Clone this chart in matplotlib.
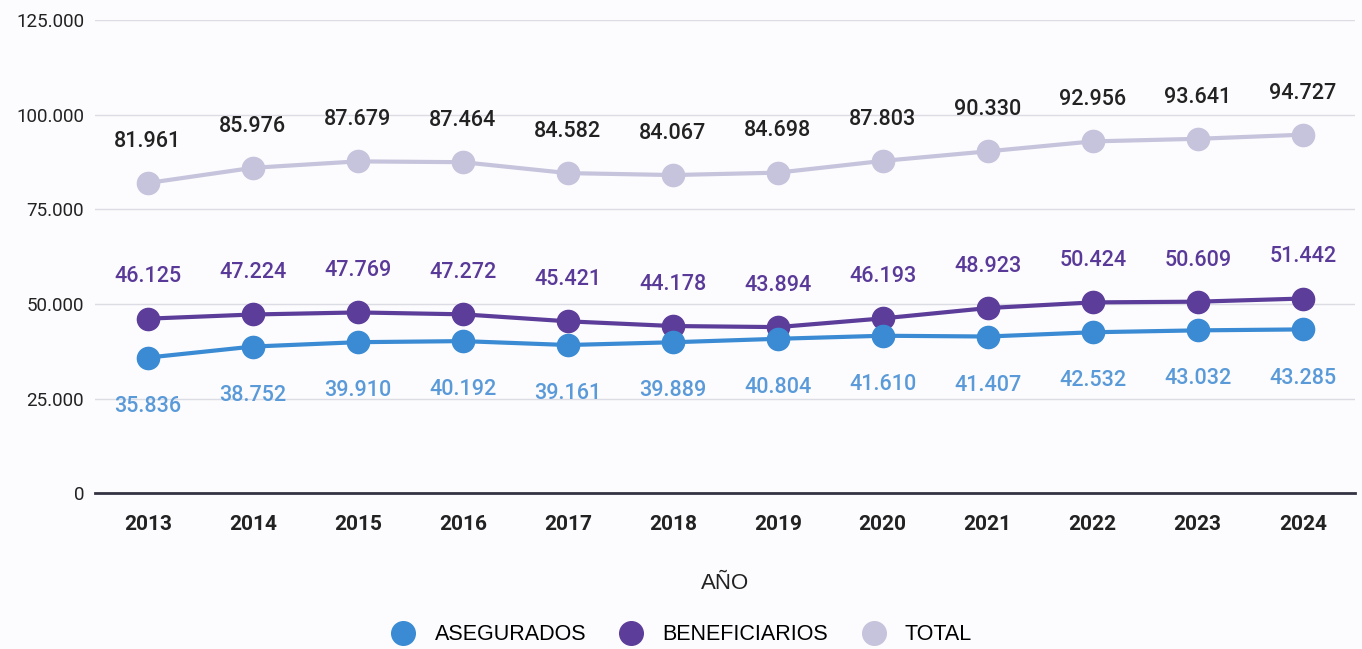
import matplotlib
matplotlib.use("Agg")
import matplotlib.pyplot as plt
from matplotlib.lines import Line2D

years = ["2013", "2014", "2015", "2016", "2017", "2018", "2019", "2020", "2021", "2022", "2023", "2024"]
asegurados = [35836, 38752, 39910, 40192, 39161, 39889, 40804, 41610, 41407, 42532, 43032, 43285]
beneficiarios = [46125, 47224, 47769, 47272, 45421, 44178, 43894, 46193, 48923, 50424, 50609, 51442]
total = [81961, 85976, 87679, 87464, 84582, 84067, 84698, 87803, 90330, 92956, 93641, 94727]
yticks = [0, 25000, 50000, 75000, 100000, 125000]
ytick_labels = ["0", "25.000", "50.000", "75.000", "100.000", "125.000"]

c_aseg = "#3a8bd3"
c_benef = "#5c3d9a"
c_total = "#c6c3dc"
c_aseg_lbl = "#5a9ad8"
c_benef_lbl = "#5a3a98"
c_total_lbl = "#222222"

plt.rcParams['font.family'] = ['Roboto', 'DejaVu Sans']

fig = plt.figure(figsize=(13.62, 6.49), dpi=100)
fig.patch.set_facecolor("#fcfcfe")
ax = fig.add_axes([0.07, 0.24, 0.925, 0.729])
ax.set_facecolor("#fcfcfe")

x = list(range(len(years)))

def fmt(v):
    return f"{v:,}".replace(",", ".")

for vals, col, lblcol, off in [
    (total, c_total, c_total_lbl, 30),
    (beneficiarios, c_benef, c_benef_lbl, 30),
    (asegurados, c_aseg, c_aseg_lbl, -35),
]:
    ax.plot(x, vals, color=col, lw=3, marker="o", markersize=16, zorder=3)
    for xi, v in zip(x, vals):
        ax.annotate(fmt(v), (xi, v), xytext=(0, off), textcoords="offset points",
                    ha="center", va="center", fontsize=15.5, color=lblcol,
                    fontweight="medium")

ax.set_xlim(-0.5, len(years) - 0.5)
ax.set_ylim(0, 125000)
ax.set_yticks(yticks)
ax.set_yticklabels(ytick_labels, fontsize=13.5, color="#222222")
ax.set_xticks(x)
ax.set_xticklabels(years, fontsize=15, color="#222222", fontweight="bold")
ax.tick_params(axis="x", length=0, pad=16)
ax.tick_params(axis="y", length=0, pad=8)
ax.grid(axis="y", color="#dcdce4", lw=1)
ax.set_axisbelow(True)
for s in ["top", "right", "left"]:
    ax.spines[s].set_visible(False)
ax.spines["bottom"].set_color("#333344")
ax.spines["bottom"].set_linewidth(2)

ax.set_xlabel("AÑO", fontsize=16, color="#222222", labelpad=28, family=['Liberation Sans', 'DejaVu Sans'])

handles = [Line2D([], [], color=c, marker="o", ls="none", markersize=17) for c in (c_aseg, c_benef, c_total)]
fig.legend(handles, ["ASEGURADOS", "BENEFICIARIOS", "TOTAL"], loc="center",
           bbox_to_anchor=(0.497, 0.022), ncol=3, frameon=False,
           handletextpad=0.45, columnspacing=1.1,
           prop={'family': ['Liberation Sans', 'DejaVu Sans'], 'size': 15.5})

fig.savefig("out.png", dpi=100, facecolor=fig.get_facecolor())
